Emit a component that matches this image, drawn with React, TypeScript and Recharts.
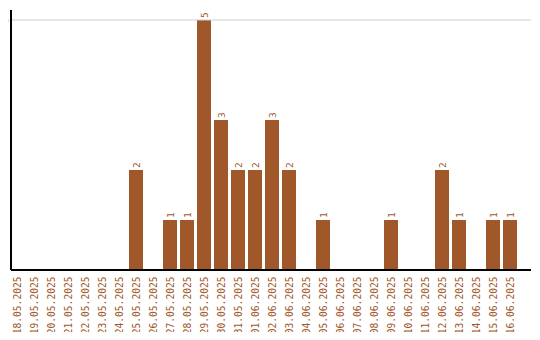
import React from "react";
import { BarChart, Bar, XAxis, YAxis, ReferenceLine, LabelList } from "recharts";

const dates = [
  "18.05.2025", "19.05.2025", "20.05.2025", "21.05.2025", "22.05.2025",
  "23.05.2025", "24.05.2025", "25.05.2025", "26.05.2025", "27.05.2025",
  "28.05.2025", "29.05.2025", "30.05.2025", "31.05.2025", "01.06.2025",
  "02.06.2025", "03.06.2025", "04.06.2025", "05.06.2025", "06.06.2025",
  "07.06.2025", "08.06.2025", "09.06.2025", "10.06.2025", "11.06.2025",
  "12.06.2025", "13.06.2025", "14.06.2025", "15.06.2025", "16.06.2025",
];

const counts = [
  0, 0, 0, 0, 0, 0, 0, 2, 0, 1,
  1, 5, 3, 2, 2, 3, 2, 0, 1, 0,
  0, 0, 1, 0, 0, 2, 1, 0, 1, 1,
];

const yTicks = [5];

const BROWN = "#a0572a";
const FONT = "'DejaVu Sans Mono', monospace";

const data = dates.map((d, i) => ({ date: d, count: counts[i] }));

// rotated date labels under the axis
const DateTick = (props: any) => {
  const { x, y, payload } = props;
  return (
    <text
      transform={`translate(${x + 3.5},${y - 1.5}) rotate(-90)`}
      textAnchor="end"
      fill={BROWN}
      fontSize={9.6}
      fontFamily={FONT}
    >
      {payload.value}
    </text>
  );
};

const CountTick = (props: any) => {
  const { y, payload } = props;
  return (
    <text
      transform={`translate(7.5,${y}) rotate(-90)`}
      textAnchor="middle"
      fill="#000"
      fontSize={9}
      fontFamily={FONT}
    >
      {payload.value}
    </text>
  );
};

const BarValue = (props: any) => {
  const { x, y, width, value } = props;
  if (!value) return null;
  return (
    <text
      transform={`translate(${x + width / 2 + 3.5},${y - 2}) rotate(-90)`}
      textAnchor="start"
      fill={BROWN}
      fontSize={9.5}
      fontFamily={FONT}
    >
      {value}
    </text>
  );
};

export default function App() {
  return (
    <div style={{ margin: -8, background: "#fff", width: 540, height: 340 }}>
      <BarChart
        width={540}
        height={340}
        data={data}
        margin={{ top: 10, right: 9, bottom: 0, left: 0 }}
        barCategoryGap={1.5}
      >
        <ReferenceLine y={5} stroke="#cccccc" strokeWidth={1} />
        <XAxis
          dataKey="date"
          interval={0}
          height={70}
          padding={{ left: -2.5, right: 12.5 }}
          tick={<DateTick />}
          tickLine={false}
          axisLine={{ stroke: "#000", strokeWidth: 2 }}
        />
        <YAxis
          width={11}
          domain={[0, 5.2]}
          ticks={yTicks}
          tick={<CountTick />}
          tickLine={false}
          axisLine={{ stroke: "#000", strokeWidth: 2 }}
        />
        <Bar dataKey="count" fill={BROWN} isAnimationActive={false}>
          <LabelList dataKey="count" content={<BarValue />} />
        </Bar>
      </BarChart>
    </div>
  );
}
